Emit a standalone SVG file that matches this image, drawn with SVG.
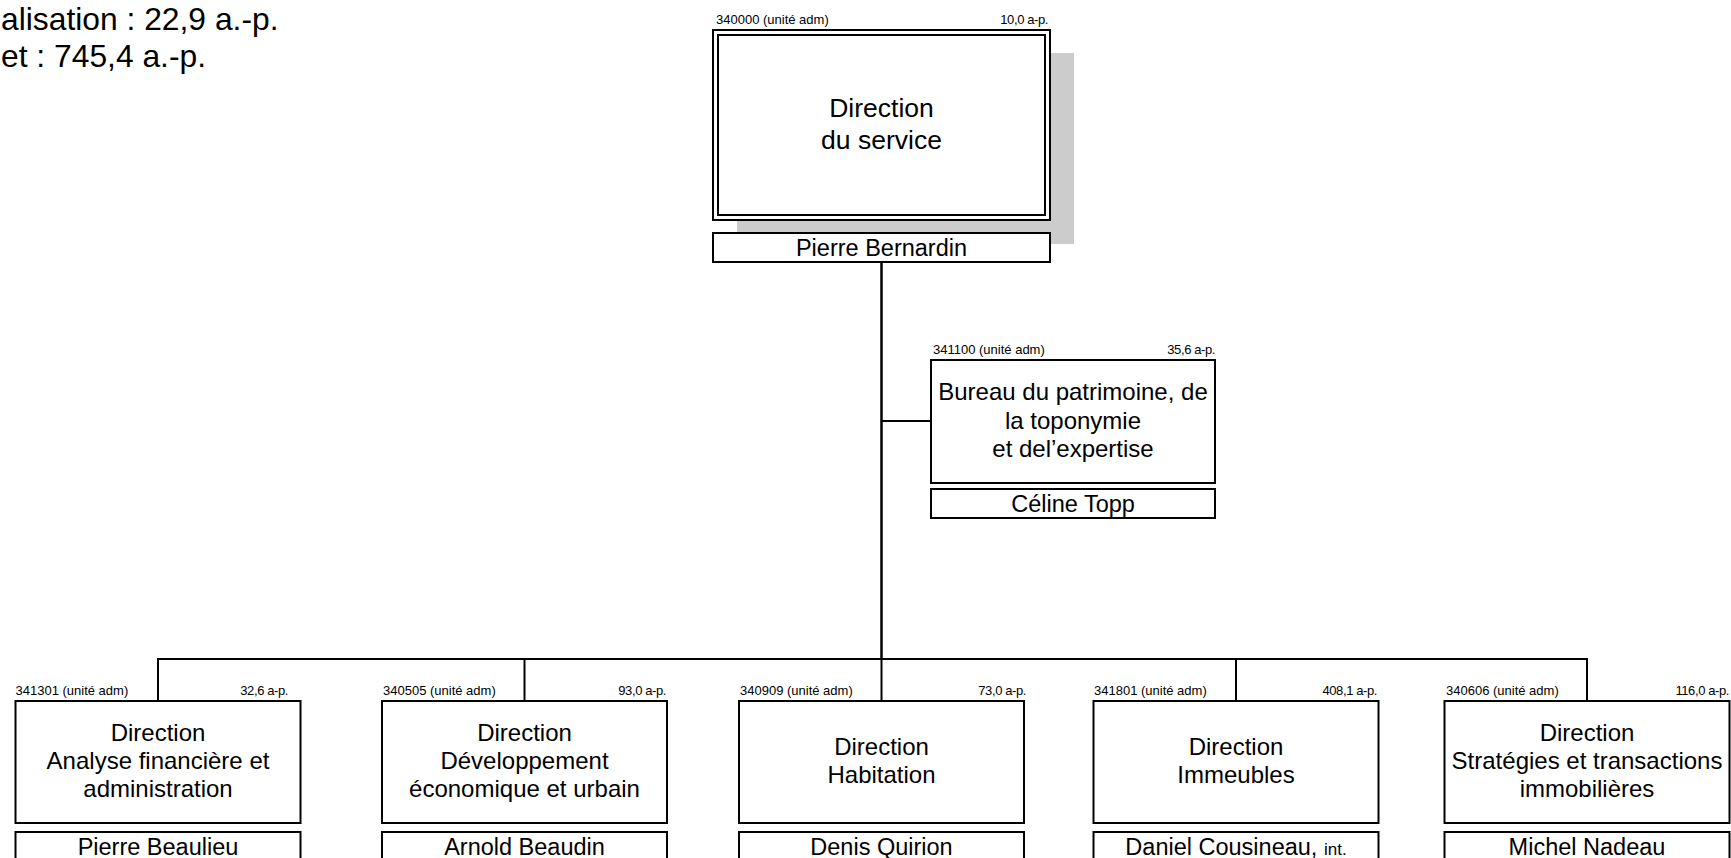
<svg xmlns="http://www.w3.org/2000/svg" width="1731" height="858" viewBox="0 0 1731 858">
  <style>
    text { font-family: "Liberation Sans", Arial, sans-serif; fill: #000; }
    .box { fill: #fff; stroke: #000; stroke-width: 2; }
    .shadow { fill: #cccccc; stroke: none; }
    .wire { fill: none; stroke: #000; stroke-width: 2; }
    .trunk { fill: none; stroke: #000; stroke-width: 2.5; }
    .code { font-size: 13px; }
    .ap { font-size: 13px; text-anchor: end; letter-spacing: -0.4px; }
    .title { font-size: 24px; text-anchor: middle; }
    .title-big { font-size: 26.5px; text-anchor: middle; }
    .name { font-size: 23.5px; text-anchor: middle; }
    .summary { font-size: 31.8px; }
  </style>

  <!-- summary figures, top left -->
  <g id="summary">
    <text class="summary" x="1" y="30">alisation : 22,9 a.-p.</text>
    <text class="summary" x="1" y="67">et : 745,4 a.-p.</text>
  </g>

  <!-- connectors -->
  <g id="connectors">
    <line class="trunk" x1="881.5" y1="220" x2="881.5" y2="659"/>
    <line class="wire" x1="881.5" y1="421" x2="931" y2="421"/>
    <polyline class="wire" points="158,701 158,659 1587,659 1587,701"/>
    <line class="wire" x1="524.5" y1="659" x2="524.5" y2="701"/>
    <line class="wire" x1="881.5" y1="659" x2="881.5" y2="701"/>
    <line class="wire" x1="1236" y1="659" x2="1236" y2="701"/>
  </g>

  <!-- 340000 Direction du service -->
  <g id="n340000">
    <rect class="shadow" x="737" y="53" width="337" height="191"/>
    <rect class="box" x="713" y="30" width="337" height="190"/>
    <rect class="box" x="718" y="35" width="327" height="180"/>
    <text class="code" x="716" y="24">340000 (unité adm)</text>
    <text class="ap" x="1048" y="24">10,0 a-p.</text>
    <text class="title-big" x="881.5" y="117">Direction</text>
    <text class="title-big" x="881.5" y="149">du service</text>
    <rect class="box" x="713" y="233" width="337" height="29"/>
    <text class="name" x="881.5" y="256">Pierre Bernardin</text>
  </g>

  <!-- 341100 Bureau du patrimoine -->
  <g id="n341100">
    <text class="code" x="933" y="354">341100 (unité adm)</text>
    <text class="ap" x="1215" y="354">35,6 a-p.</text>
    <rect class="box" x="931" y="360" width="284" height="123"/>
    <text class="title" x="1073" y="400">Bureau du patrimoine, de</text>
    <text class="title" x="1073" y="429">la toponymie</text>
    <text class="title" x="1073" y="457">et del’expertise</text>
    <rect class="box" x="931" y="489" width="284" height="29"/>
    <text class="name" x="1073" y="512">Céline Topp</text>
  </g>

  <!-- 341301 Analyse financière et administration -->
  <g id="n341301">
    <text class="code" x="15.5" y="695">341301 (unité adm)</text>
    <text class="ap" x="288" y="695">32,6 a-p.</text>
    <rect class="box" x="15.5" y="701" width="285" height="122"/>
    <text class="title" x="158" y="741">Direction</text>
    <text class="title" x="158" y="769">Analyse financière et</text>
    <text class="title" x="158" y="797">administration</text>
    <rect class="box" x="15.5" y="832" width="285" height="29"/>
    <text class="name" x="158" y="855">Pierre Beaulieu</text>
  </g>

  <!-- 340505 Développement économique et urbain -->
  <g id="n340505">
    <text class="code" x="383" y="695">340505 (unité adm)</text>
    <text class="ap" x="666" y="695">93,0 a-p.</text>
    <rect class="box" x="382" y="701" width="285" height="122"/>
    <text class="title" x="524.5" y="741">Direction</text>
    <text class="title" x="524.5" y="769">Développement</text>
    <text class="title" x="524.5" y="797">économique et urbain</text>
    <rect class="box" x="382" y="832" width="285" height="29"/>
    <text class="name" x="524.5" y="855">Arnold Beaudin</text>
  </g>

  <!-- 340909 Habitation -->
  <g id="n340909">
    <text class="code" x="740" y="695">340909 (unité adm)</text>
    <text class="ap" x="1026" y="695">73,0 a-p.</text>
    <rect class="box" x="739" y="701" width="285" height="122"/>
    <text class="title" x="881.5" y="755">Direction</text>
    <text class="title" x="881.5" y="783">Habitation</text>
    <rect class="box" x="739" y="832" width="285" height="29"/>
    <text class="name" x="881.5" y="855">Denis Quirion</text>
  </g>

  <!-- 341801 Immeubles -->
  <g id="n341801">
    <text class="code" x="1094" y="695">341801 (unité adm)</text>
    <text class="ap" x="1377" y="695">408,1 a-p.</text>
    <rect class="box" x="1093.5" y="701" width="285" height="122"/>
    <text class="title" x="1236" y="755">Direction</text>
    <text class="title" x="1236" y="783">Immeubles</text>
    <rect class="box" x="1093.5" y="832" width="285" height="29"/>
    <text class="name" x="1236" y="855">Daniel Cousineau, <tspan font-size="17">int.</tspan></text>
  </g>

  <!-- 340606 Stratégies et transactions immobilières -->
  <g id="n340606">
    <text class="code" x="1446" y="695">340606 (unité adm)</text>
    <text class="ap" x="1729" y="695">116,0 a-p.</text>
    <rect class="box" x="1444.5" y="701" width="285" height="122"/>
    <text class="title" x="1587" y="741">Direction</text>
    <text class="title" x="1587" y="769">Stratégies et transactions</text>
    <text class="title" x="1587" y="797">immobilières</text>
    <rect class="box" x="1444.5" y="832" width="285" height="29"/>
    <text class="name" x="1587" y="855">Michel Nadeau</text>
  </g>
</svg>
